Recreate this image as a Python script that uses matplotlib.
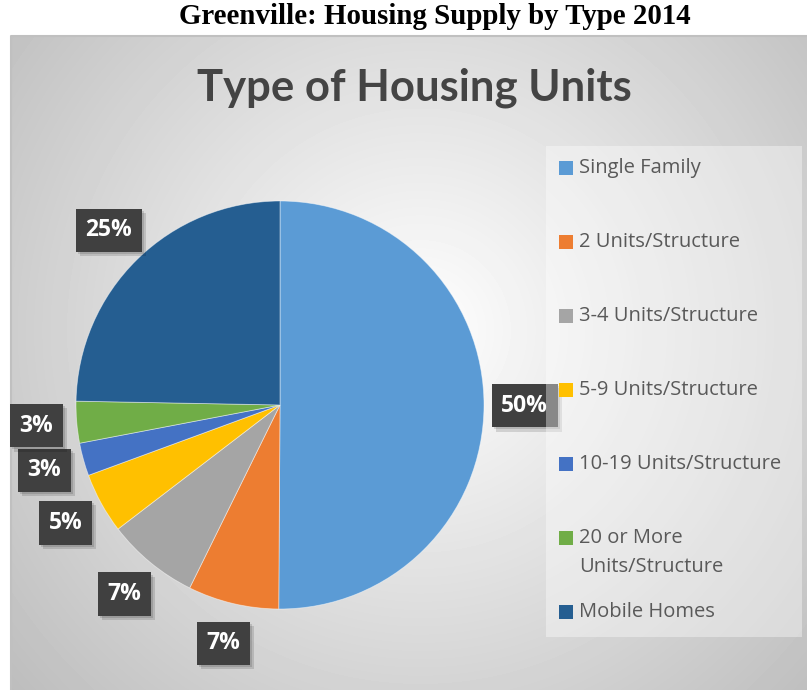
import textwrap
import numpy as np
import matplotlib
matplotlib.use("Agg")
import matplotlib.pyplot as plt
import matplotlib.patheffects as pe
from matplotlib.patches import Rectangle

# data (percent of housing units)
categories = ["Single Family", "2 Units/Structure", "3-4 Units/Structure",
              "5-9 Units/Structure", "10-19 Units/Structure",
              "20 or More Units/Structure", "Mobile Homes"]
shares = [50.1, 7.2, 7.3, 4.8, 2.6, 3.3, 24.7]
colors = ["#5B9BD5", "#ED7D31", "#A5A5A5", "#FFC000", "#4472C4", "#70AD47", "#255E91"]

W, H = 807, 690
fig = plt.figure(figsize=(W / 100, H / 100), dpi=100)

# background layer in pixel coords
bg = fig.add_axes([0, 0, 1, 1], zorder=0)
bg.set_xlim(0, W)
bg.set_ylim(H, 0)
bg.axis("off")
yy, xx = np.mgrid[0:H, 0:W]
d = np.hypot(xx - 420, yy - 330) / 505.0
shade = np.clip(1 - 0.24 * d, 0, 1)
shade[:36, :] = 1.0
shade[:, :10] = 1.0
bg.imshow(shade, cmap="gray", vmin=0, vmax=1, extent=(0, W, H, 0), interpolation="bilinear")
bg.plot([10.5, 10.5, W], [H, 36, 36], color="#c0c0c0", lw=1.5)

fig.text(435 / W, 1 - 17 / H, "Greenville: Housing Supply by Type 2014",
         ha="center", va="center", family="Liberation Serif", weight="bold", fontsize=20.8)
fig.text(414 / W, 1 - 88 / H, "Type of Housing Units", ha="center", va="center",
         family="Lato", weight="bold", fontsize=31.4, color="#444444")

# pie, center (280, 405) px, radius 204 px
R = 204
k = 1.4
s = 2 * R * k
cx, cy = 280, H - 405
ax = fig.add_axes([(cx - s / 2) / W, (cy - s / 2) / H, s / W, s / H], zorder=1)
wedges, texts, pcts = ax.pie(shares, colors=colors, startangle=90, counterclock=False,
                             autopct=lambda p: f"{p:.0f}%", pctdistance=1.2,
                             wedgeprops=dict(edgecolor=(1, 1, 1, 0.5), linewidth=0.6))
ax.set_xlim(-k, k)
ax.set_ylim(-k, k)
ax.axis("off")
for t in pcts:
    t.set(color="white", family="Open Sans", weight="bold", fontsize=16.5)
    t.set_bbox(dict(boxstyle="square,pad=0.42", fc="#404040", ec="none"))
    t.get_bbox_patch().set_path_effects([
        pe.SimplePatchShadow(offset=(3, -3), shadow_rgbFace="black", alpha=0.13),
        pe.SimplePatchShadow(offset=(1.5, -1.5), shadow_rgbFace="black", alpha=0.13),
        pe.Normal()])

# legend layer (drawn above the pie so it lightens the 50% box)
fg = fig.add_axes([0, 0, 1, 1], zorder=2)
fg.set_xlim(0, W)
fg.set_ylim(H, 0)
fg.axis("off")
fg.patch.set_alpha(0)
fg.add_patch(Rectangle((546, 146), 256, 491, fc="white", alpha=0.38, ec="none"))
for i, (lab, c) in enumerate(zip(categories, colors)):
    y0 = 168 + 74 * i
    fg.add_patch(Rectangle((559, y0 - 7), 14, 14, fc=c, ec="none"))
    for j, line in enumerate(textwrap.wrap(lab, 22)):
        fg.text(579, y0 + 29 * j, line, va="center", ha="left", family="Open Sans",
                fontsize=14.5, color="#595959")

fig.savefig("out.png", dpi=100)
